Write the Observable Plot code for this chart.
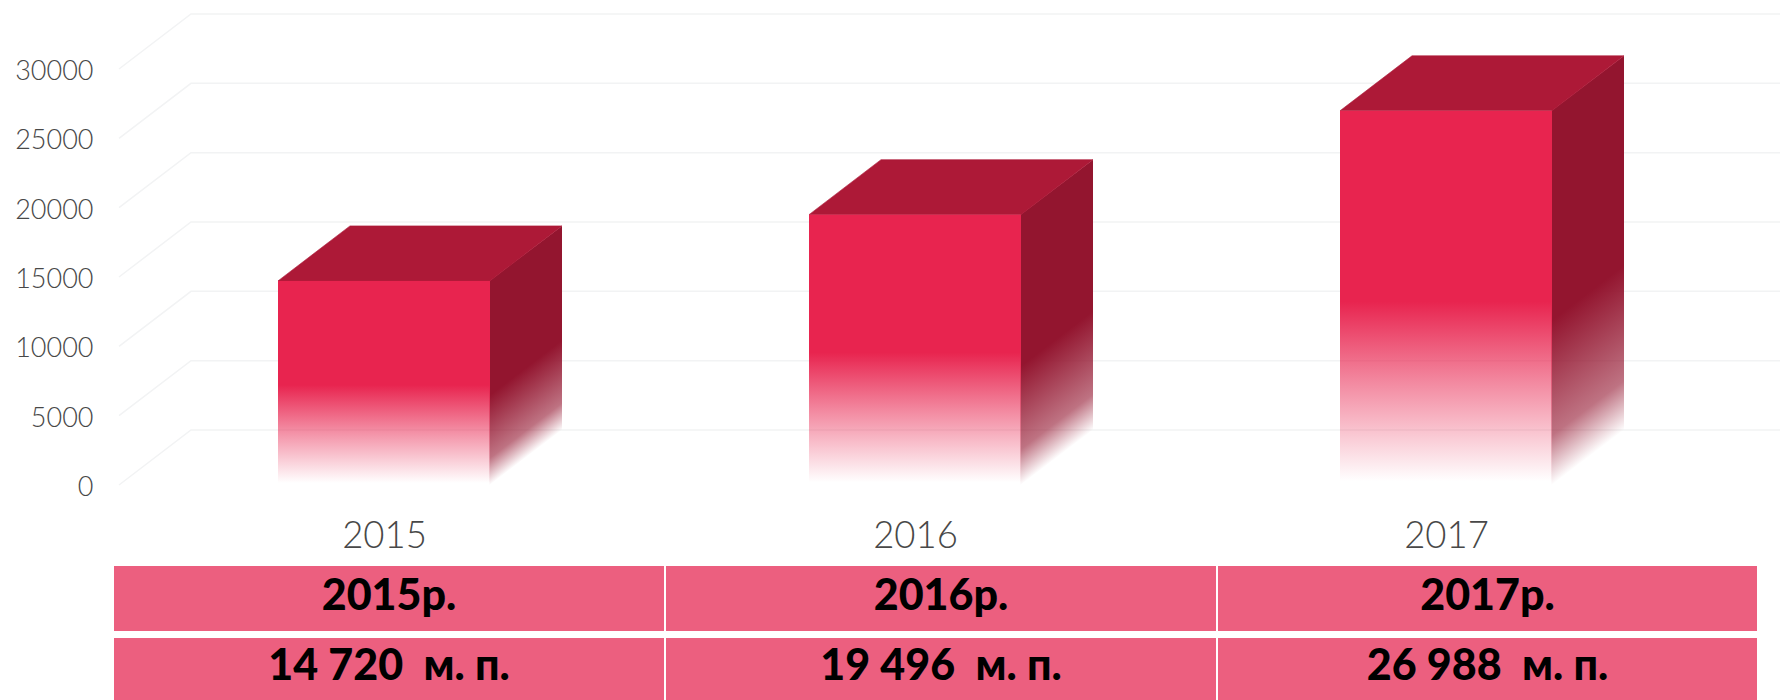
<!DOCTYPE html>
<html>
<head>
<meta charset="utf-8">
<script src="https://cdn.jsdelivr.net/npm/d3@7"></script>
<script src="https://cdn.jsdelivr.net/npm/@observablehq/plot@0.6"></script>
<style>
html,body{margin:0;padding:0;background:#fff;overflow:hidden;width:1780px;height:700px}
#chart svg{display:block;background:#fff}
#table{display:grid;grid-template-columns:550px 550px 539px;grid-template-rows:65px 62px;column-gap:2px;row-gap:7px;margin:6px 0 0 114px;width:1641px}
#table div{background:#ec5f7f;color:#000;font:900 43px Lato,sans-serif;display:flex;align-items:center;justify-content:center;white-space:pre;padding-bottom:11px;box-sizing:border-box}
</style>
</head>
<body>
<div id="chart"></div>
<div id="table"></div>
<script>
const years = ["2015", "2016", "2017"];
const values = [14720, 19496, 26988];
const yTicks = [0, 5000, 10000, 15000, 20000, 25000, 30000];
const yearLabels = ["2015р.", "2016р.", "2017р."];
const valueLabels = ["14 720  м. п.", "19 496  м. п.", "26 988  м. п."];
const rows = years.map((year, i) => ({year, value: values[i]}));

const depthX = 72, depthY = 55;
const fadeStart = 0.51;
const sideFadeStart = 0.56;
const colors = {front: "#e8244f", top: "#ad1937", side: "#93152f", grid: "#f2f3f4", text: "#484848"};

function svgGroup() { return d3.create("svg:g"); }

// Gridlines on the back wall and the diagonal lines on the left side wall
function walls(index, {y}, values, {width, marginLeft}) {
  const g = svgGroup().attr("fill", "none").attr("stroke", colors.grid).attr("stroke-width", 1.5);
  const x0 = marginLeft;
  for (const t of yTicks) {
    g.append("path").attr("d", `M${x0},${y(t)}L${x0 + depthX},${y(t) - depthY}L${width},${y(t) - depthY}`);
  }
  return g.node();
}

function frontGradient() {
  const defs = d3.create("svg:defs");
  const lg = defs.append("linearGradient").attr("id", "frontFade").attr("x1", 0).attr("x2", 0).attr("y1", 0).attr("y2", 1);
  lg.append("stop").attr("offset", fadeStart).attr("stop-color", colors.front);
  lg.append("stop").attr("offset", 0.72).attr("stop-color", colors.front).attr("stop-opacity", 0.55);
  lg.append("stop").attr("offset", 0.99).attr("stop-color", colors.front).attr("stop-opacity", 0);
  return defs.node();
}

// Top and side faces, placed by the same scales as the front face
function faces(index, scales) {
  const {x, y} = scales;
  const g = svgGroup();
  const defs = g.append("defs");
  const bw = scales.scales.x.bandwidth;
  const nLen = Math.hypot(depthX, depthY);
  rows.forEach((d, i) => {
    const x1 = x(d.year), x2 = x1 + bw, yt = y(d.value), yb = y(0);
    const ys = yt + (yb - yt) * sideFadeStart;
    const h = yb - ys, t = h * depthX / nLen;
    const id = "sideFade" + i;
    const lg = defs.append("linearGradient").attr("id", id).attr("gradientUnits", "userSpaceOnUse")
      .attr("x1", x2).attr("y1", ys)
      .attr("x2", x2 + t * depthY / nLen).attr("y2", ys + t * depthX / nLen);
    lg.append("stop").attr("offset", 0).attr("stop-color", colors.side);
    lg.append("stop").attr("offset", 0.7).attr("stop-color", colors.side).attr("stop-opacity", 0.6);
    lg.append("stop").attr("offset", 1).attr("stop-color", colors.side).attr("stop-opacity", 0);
    g.append("path").attr("fill", `url(#${id})`)
      .attr("d", `M${x2 - 0.5},${yt}L${x2 + depthX},${yt - depthY}L${x2 + depthX},${yb - depthY}L${x2 - 0.5},${yb}Z`);
    g.append("path").attr("fill", colors.top).attr("stroke", colors.top).attr("stroke-width", 0.6)
      .attr("d", `M${x1},${yt}L${x2},${yt}L${x2 + depthX},${yt - depthY}L${x1 + depthX},${yt - depthY}Z`);
  });
  return g.node();
}

const plot = Plot.plot({
  width: 1780,
  height: 560,
  marginLeft: 119,
  marginRight: 68,
  marginTop: 10,
  marginBottom: 75,
  x: {domain: years, range: [119, 1712], paddingInner: 0.6, paddingOuter: 0.3, label: null},
  y: {domain: [0, 30000], range: [485, 69], label: null},
  style: {background: "#fff", overflow: "hidden"},
  marks: [
    walls,
    frontGradient,
    faces,
    Plot.barY(rows, {x: "year", y: "value", fill: "url(#frontFade)"}),
    Plot.axisY({ticks: yTicks, tickFormat: d3.format("d"), tickSize: 0, tickPadding: 26, dy: 2, fontSize: 27, fontWeight: 300, fontFamily: "Lato", fill: colors.text, label: null}),
    Plot.axisX({tickSize: 0, tickPadding: 37, fontSize: 36.5, fontWeight: 300, fontFamily: "Lato", fill: colors.text, label: null})
  ]
});
document.getElementById("chart").append(plot);

const table = d3.select("#table");
for (const t of yearLabels.concat(valueLabels)) table.append("div").text(t);
</script>
</body>
</html>
